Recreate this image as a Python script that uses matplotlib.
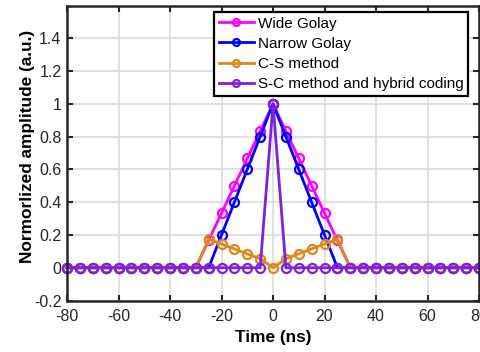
import numpy as np
import matplotlib
matplotlib.use("Agg")
import matplotlib.pyplot as plt

plt.rcParams['font.family'] = ['Liberation Sans', 'DejaVu Sans']
plt.rcParams['axes.unicode_minus'] = False

t = np.arange(-80, 81, 5)

wide_golay = [0]*10 + [0, 0.167, 0.333, 0.5, 0.667, 0.833, 1.0, 0.833, 0.667, 0.5, 0.333, 0.167, 0] + [0]*10
narrow_golay = [0]*11 + [0, 0.2, 0.4, 0.6, 0.8, 1.0, 0.8, 0.6, 0.4, 0.2, 0] + [0]*11
cs_method = [0]*10 + [0, 0.175, 0.145, 0.115, 0.085, 0.055, 0.0, 0.055, 0.085, 0.115, 0.145, 0.175, 0] + [0]*10
sc_method = [0]*16 + [1.0] + [0]*16

labels = ['Wide Golay', 'Narrow Golay', 'C-S method', 'S-C method and hybrid coding']
colors = ['#FF00FF', '#0000FF', '#E0861A', '#7F1FE0']
series = [wide_golay, narrow_golay, cs_method, sc_method]

fig = plt.figure(figsize=(4.8, 3.52), dpi=100)
ax = fig.add_axes([0.1396, 0.1463, 0.8584, 0.8379])

for y, c, lab in zip(series, colors, labels):
    ax.plot(t, y, '-o', color=c, lw=2, ms=6.5, mfc='none', mew=1.6, label=lab, clip_on=False)

ax.set_xlim(-80, 80)
ax.set_ylim(-0.2, 1.6)
ax.set_xticks(np.arange(-80, 81, 20))
ax.set_yticks([-0.2, 0, 0.2, 0.4, 0.6, 0.8, 1.0, 1.2, 1.4])
ax.set_yticklabels(['-0.2', '0', '0.2', '0.4', '0.6', '0.8', '1', '1.2', '1.4'])
ax.grid(True, color='#DCDCDC', lw=1.2)
ax.set_axisbelow(True)
ax.tick_params(direction='in', top=True, right=True, length=4, width=1.5,
               labelsize=11.5, labelcolor='#262626', color='#262626')
ax.tick_params(axis='x', pad=6)
ax.tick_params(axis='y', pad=4)
for s in ax.spines.values():
    s.set_linewidth(1.8)
    s.set_color('#262626')

ax.set_xlabel('Time (ns)', fontsize=12.4, fontweight='bold')
ax.set_ylabel('Normorlized amplitude (a.u.)', fontsize=12.4, fontweight='bold')
ax.xaxis.set_label_coords(0.5, -0.100)
ax.yaxis.set_label_coords(-0.078, 0.523)

leg = ax.legend(loc='upper right', bbox_to_anchor=(0.973, 0.978), fontsize=11,
                frameon=True, fancybox=False, edgecolor='black', framealpha=1,
                borderpad=0.3, labelspacing=0.4, handlelength=2.3, handletextpad=0.25,
                borderaxespad=0)
leg.get_frame().set_linewidth(1.6)
for h in leg.legend_handles:
    h.set_markersize(5)
    h.set_linewidth(2)

fig.savefig('out.png', dpi=100)
